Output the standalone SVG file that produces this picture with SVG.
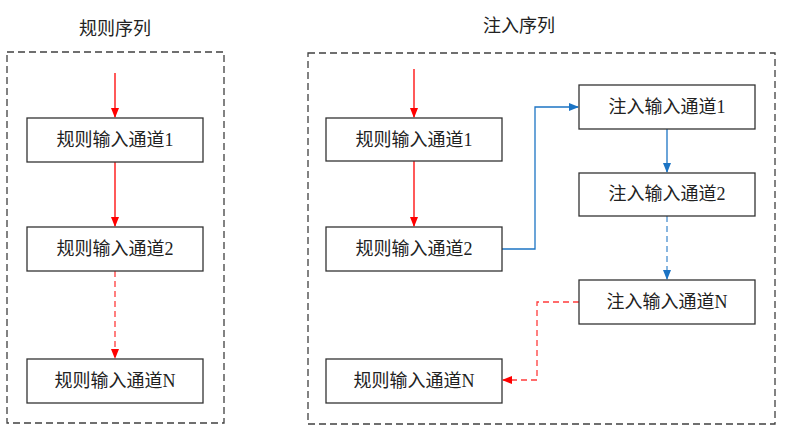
<svg xmlns="http://www.w3.org/2000/svg" width="788" height="427" viewBox="0 0 788 427">
<style>
.frame{fill:none;stroke:#404040;stroke-width:1.3;stroke-dasharray:7,4}
.node rect{fill:#fff;stroke:#333;stroke-width:1.3}
text{font-family:"Liberation Serif","Noto Sans CJK SC",serif;font-size:18px;fill:#222;text-anchor:middle}
.red{fill:none;stroke:#FF0000;stroke-width:1.3}
.redd{fill:none;stroke:#FF3B3B;stroke-width:1.3;stroke-dasharray:6,4}
.blue{fill:none;stroke:#1C74C4;stroke-width:1.3}
.blued{fill:none;stroke:#4A90D0;stroke-width:1.3;stroke-dasharray:6,4}
</style>
<defs>
<marker id="ar" markerWidth="10" markerHeight="10" refX="9" refY="5" orient="auto" markerUnits="userSpaceOnUse"><path d="M0,1 L10,5 L0,9 Z" fill="#FF0000"/></marker>
<marker id="ab" markerWidth="10" markerHeight="10" refX="9" refY="5" orient="auto" markerUnits="userSpaceOnUse"><path d="M0,1 L10,5 L0,9 Z" fill="#1C74C4"/></marker>
</defs>
<g id="frames">
<rect class="frame" x="7" y="52" width="217" height="371"/>
<rect class="frame" x="308" y="53" width="467" height="371"/>
<text x="115" y="35">规则序列</text>
<text x="519" y="32">注入序列</text>
</g>
<g id="connectors">
<path class="red" d="M115,73 V117" marker-end="url(#ar)"/>
<path class="red" d="M115,162 V226" marker-end="url(#ar)"/>
<path class="redd" d="M115,271 V358" marker-end="url(#ar)"/>
<path class="red" d="M414,69 V117" marker-end="url(#ar)"/>
<path class="red" d="M414,161 V226" marker-end="url(#ar)"/>
<path class="blue" d="M502,249 H535 V107 H578" marker-end="url(#ab)"/>
<path class="blue" d="M667,129 V172" marker-end="url(#ab)"/>
<path class="blued" d="M667,216 V279" marker-end="url(#ab)"/>
<path class="redd" d="M579,302 H537 V380 H503" marker-end="url(#ar)"/>
</g>
<g id="l1" class="node"><rect x="27" y="118" width="176" height="44"/><text x="115" y="146">规则输入通道1</text></g>
<g id="l2" class="node"><rect x="27" y="227" width="176" height="44"/><text x="115" y="255">规则输入通道2</text></g>
<g id="lN" class="node"><rect x="27" y="359" width="176" height="44"/><text x="115" y="387">规则输入通道N</text></g>
<g id="r1" class="node"><rect x="326" y="118" width="176" height="43"/><text x="414" y="146">规则输入通道1</text></g>
<g id="r2" class="node"><rect x="326" y="227" width="176" height="44"/><text x="414" y="255">规则输入通道2</text></g>
<g id="rN" class="node"><rect x="326" y="359" width="176" height="44"/><text x="414" y="387">规则输入通道N</text></g>
<g id="i1" class="node"><rect x="579" y="85" width="176" height="44"/><text x="667" y="113">注入输入通道1</text></g>
<g id="i2" class="node"><rect x="579" y="173" width="176" height="43"/><text x="667" y="200">注入输入通道2</text></g>
<g id="iN" class="node"><rect x="579" y="280" width="176" height="44"/><text x="667" y="308">注入输入通道N</text></g>
</svg>
